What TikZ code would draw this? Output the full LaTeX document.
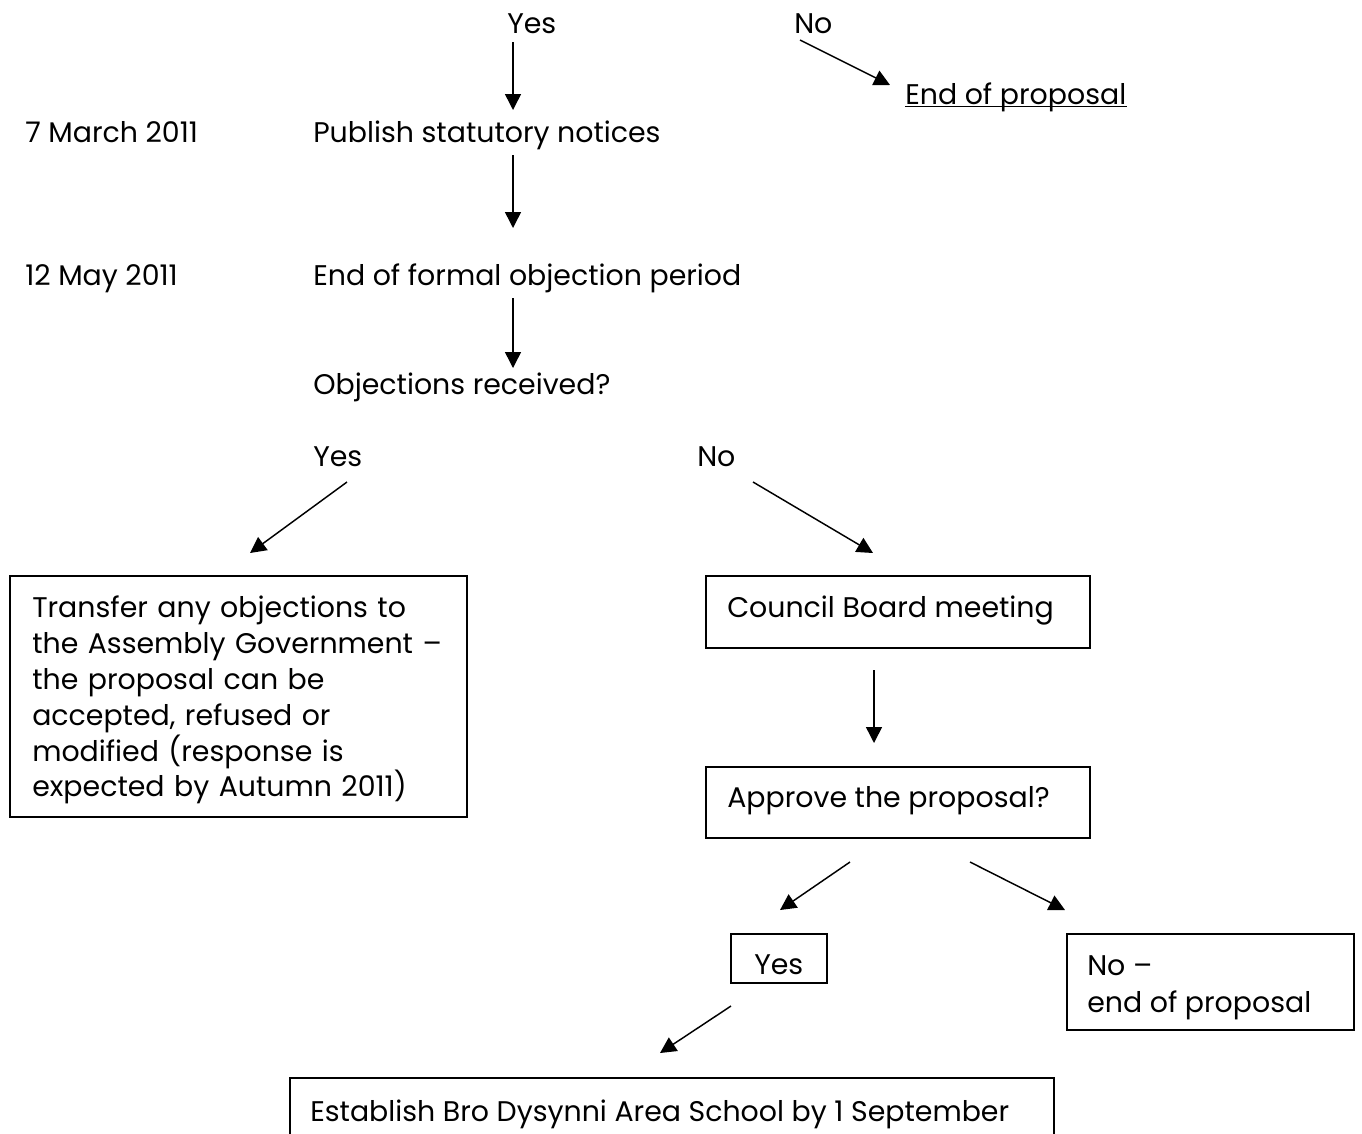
\documentclass[tikz,border=0pt]{standalone}
\usepackage{fontspec}
\setmainfont{Poppins}
\usetikzlibrary{arrows.meta,fit}
\tikzset{
  lbl/.style={anchor=base west, inner sep=0pt, font=\fontsize{21.3}{26.85}\selectfont},
  flow/.style={-{Triangle[length=12pt,width=12pt]}, line width=1.1pt},
  frame/.style={draw, line width=1.1pt, inner sep=0pt},
}
\begin{document}
\begin{tikzpicture}[x=0.75pt, y=-0.75pt]
    \clip (0,0) rectangle (1362,1133);
    % top decision
    \node[lbl] (yestop) at (507,33) {Yes};
    \node[lbl] (notop) at (794,33) {No};
    \node[lbl] (endtop) at (905,104) {End of proposal};
    \draw[line width=1.1pt] ([yshift=-2pt]endtop.base west) -- ([yshift=-2pt]endtop.base east);
    % dates and steps
    \node[lbl] (mar) at (25,142) {7 March 2011};
    \node[lbl] (publish) at (313,142) {Publish statutory notices};
    \node[lbl] (may) at (25,285) {12 May 2011};
    \node[lbl] (period) at (313,285) {End of formal objection period};
    \node[lbl] (objq) at (313,394) {Objections received?};
    \node[lbl] (yesobj) at (313,466) {Yes};
    \node[lbl] (noobj) at (697,466) {No};
    % boxes
    \node[frame, fit={(10,576) (467,817)}] (transbox) {};
    \node[lbl, anchor=north west, text width=420pt, align=left] (transfer) at (32,596)
        {Transfer any objections to\\the Assembly Government --\\the proposal can be\\accepted, refused or\\modified (response is\\expected by Autumn 2011)};
    \node[frame, fit={(706,576) (1090,648)}] (boardbox) {};
    \node[lbl] (board) at (727,617) {Council Board meeting};
    \node[frame, fit={(706,767) (1090,838)}] (approvebox) {};
    \node[lbl] (approve) at (727,807) {Approve the proposal?};
    \node[frame, fit={(731,934) (827,983)}] (yesbox) {};
    \node[lbl] (yesfin) at (754,974) {Yes};
    \node[frame, fit={(1067,934) (1354,1030)}] (nobox) {};
    \node[lbl] (nofin) at (1087,975) {No --};
    \node[lbl] (nofin2) at (1087,1012) {end of proposal};
    \node[frame, fit={(290,1078) (1054,1160)}] (schoolbox) {};
    \node[lbl] (school) at (310,1121) {Establish Bro Dysynni Area School by 1 September};
    % arrow ends
    \coordinate (a1) at (513,42);   \coordinate (b1) at (513,110);
    \coordinate (a2) at (800,40);   \coordinate (b2) at (890,85);
    \coordinate (a3) at (513,155);  \coordinate (b3) at (513,228);
    \coordinate (a4) at (513,298);  \coordinate (b4) at (513,368);
    \coordinate (a5) at (347,482);  \coordinate (b5) at (250,553);
    \coordinate (a6) at (753,482);  \coordinate (b6) at (873,553);
    \coordinate (a7) at (874,670);  \coordinate (b7) at (874,743);
    \coordinate (a8) at (850,862);  \coordinate (b8) at (780,910);
    \coordinate (a9) at (970,862);  \coordinate (b9) at (1065,910);
    \coordinate (a10) at (731,1006); \coordinate (b10) at (660,1053);
    \foreach \i in {1,...,10}
        \draw[flow] (a\i) -- (b\i);
\end{tikzpicture}
\end{document}
